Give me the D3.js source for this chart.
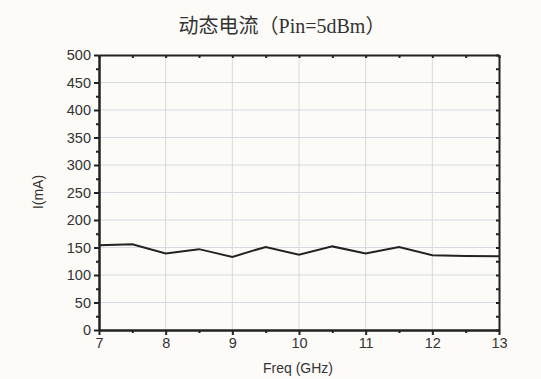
<!DOCTYPE html>
<html>
<head>
<meta charset="utf-8">
<script src="https://d3js.org/d3.v7.min.js"></script>
<title>动态电流</title>
<style>
body { margin: 0; background: #fdfbf8; }
svg { display: block; }
.tick text { font-family: "Liberation Sans", Arial, sans-serif; font-size: 14.5px; fill: #333; }
</style>
</head>
<body>
<svg id="svg" width="541" height="379"></svg>
<script>

// data
let freq = [7, 7.5, 8, 8.5, 9, 9.5, 10, 10.5, 11, 11.5, 12, 12.5, 13];
let current = [154, 156, 139, 147, 133, 151, 137, 152, 139, 151, 136, 134.5, 134];
let xTicks = [7, 8, 9, 10, 11, 12, 13];
let yTicks = [0, 50, 100, 150, 200, 250, 300, 350, 400, 450, 500];

let padL = 99, padR = 499, padT = 55, padB = 330;

let svg = d3.select("svg");

let x = d3.scaleLinear().domain([7, 13]).range([padL, padR]);
let y = d3.scaleLinear().domain([0, 500]).range([padB, padT]);

// grid
svg.append("g").selectAll("line").data(xTicks.slice(1, -1)).enter().append("line")
  .attr("x1", d => x(d)).attr("x2", d => x(d))
  .attr("y1", padT).attr("y2", padB)
  .attr("stroke", "#d6d9e0").attr("stroke-width", 1);
svg.append("g").selectAll("line").data(yTicks.slice(1, -1)).enter().append("line")
  .attr("y1", d => y(d)).attr("y2", d => y(d))
  .attr("x1", padL).attr("x2", padR)
  .attr("stroke", "#d6d9e0").attr("stroke-width", 1);

// minor ticks
let xMinor = d3.range(7.5, 13, 1);
let yMinor = d3.range(25, 500, 50);

function styleAxis(g) {
  g.select(".domain").attr("stroke", "#222").attr("stroke-width", 2);
  g.selectAll(".tick line").attr("stroke", "#222").attr("stroke-width", 2);
}

// bottom
svg.append("g").attr("transform", "translate(0," + padB + ")")
  .call(d3.axisBottom(x).tickValues(xTicks).tickFormat(d3.format("d")).tickSize(5).tickSizeOuter(0).tickPadding(3))
  .call(styleAxis);
svg.append("g").attr("transform", "translate(0," + padB + ")")
  .call(d3.axisBottom(x).tickValues(xMinor).tickSize(3).tickSizeOuter(0).tickFormat(""))
  .call(styleAxis);

// left
svg.append("g").attr("transform", "translate(" + padL + ",0)")
  .call(d3.axisLeft(y).tickValues(yTicks).tickFormat(d3.format("d")).tickSize(5).tickSizeOuter(0).tickPadding(3))
  .call(styleAxis);
svg.append("g").attr("transform", "translate(" + padL + ",0)")
  .call(d3.axisLeft(y).tickValues(yMinor).tickSize(3).tickSizeOuter(0).tickFormat(""))
  .call(styleAxis);

// top (ticks inward)
svg.append("g").attr("transform", "translate(0," + padT + ")")
  .call(d3.axisTop(x).tickValues(xTicks.concat(xMinor)).tickSize(-3).tickSizeOuter(0).tickFormat(""))
  .call(styleAxis);

// right (ticks inward)
svg.append("g").attr("transform", "translate(" + padR + ",0)")
  .call(d3.axisRight(y).tickValues(yTicks.concat(yMinor)).tickSize(-3).tickSizeOuter(0).tickFormat(""))
  .call(styleAxis);

// line
let line = d3.line().x((d, i) => x(freq[i])).y(d => y(d));
svg.append("path").datum(current)
  .attr("d", line)
  .attr("fill", "none")
  .attr("stroke", "#222")
  .attr("stroke-width", 2);

// title & labels
svg.append("text")
  .attr("x", 282).attr("y", 33)
  .attr("text-anchor", "middle")
  .attr("font-family", "'Liberation Serif', 'Noto Sans CJK SC', serif")
  .attr("font-size", 20)
  .attr("fill", "#333")
  .text("动态电流（Pin=5dBm）");

svg.append("text")
  .attr("x", 298).attr("y", 373)
  .attr("text-anchor", "middle")
  .attr("font-family", "'Liberation Sans', Arial, sans-serif")
  .attr("font-size", 14)
  .attr("fill", "#333")
  .text("Freq (GHz)");

svg.append("text")
  .attr("transform", "translate(43,192) rotate(-90)")
  .attr("text-anchor", "middle")
  .attr("font-family", "'Liberation Sans', Arial, sans-serif")
  .attr("font-size", 14)
  .attr("fill", "#333")
  .text("I(mA)");

</script>
</body>
</html>
